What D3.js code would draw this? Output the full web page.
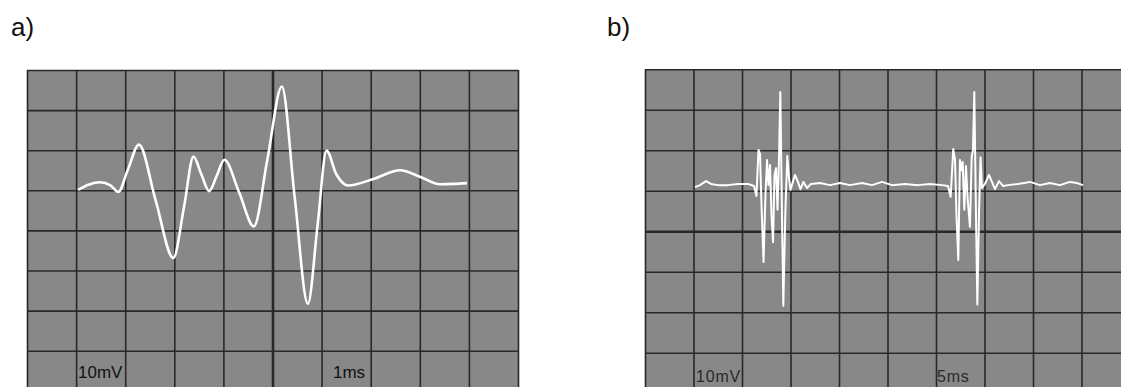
<!DOCTYPE html>
<html>
<head>
<meta charset="utf-8">
<script src="https://cdn.jsdelivr.net/npm/d3@7"></script>
<style>
  body { margin: 0; background: #fff; }
  svg { display: block; }
  .panel-label { font-family: "Liberation Sans", Arial, sans-serif; fill: #111; }
</style>
</head>
<body>
<svg id="scope"></svg>
<script>
// Panel a) - single compound action potential, 1 ms / div, 10 mV / div
const timeA = [1.04, 1.25, 1.49, 1.70, 1.86, 2.05, 2.28, 2.62, 2.98, 3.20, 3.39, 3.55, 3.71, 3.86, 4.02, 4.32, 4.62, 4.90, 5.19, 5.45, 5.72, 5.92, 6.10, 6.30, 6.54, 7.05, 7.60, 8.00, 8.41, 8.70, 8.96];
const voltA = [10.1, 11.4, 12.0, 11.2, 9.6, 15.0, 21.4, 7.5, -6.9, 6.0, 18.4, 14.0, 9.8, 13.5, 17.6, 9.5, 1.0, 18.0, 35.9, 8.5, -18.3, 1.5, 19.9, 14.0, 11.2, 12.8, 15.0, 13.4, 11.5, 11.6, 11.8];

// Panel b) - two bursts of spikes, 5 ms / div, 10 mV / div
const timeB = [5.15, 5.67, 6.29, 6.80, 7.53, 8.56, 9.59, 10.62, 11.24,
  11.49, 11.70, 11.86, 12.01, 12.22, 12.42, 12.58, 12.73, 12.89, 13.04, 13.20, 13.35, 13.51, 13.66, 13.81, 13.95, 14.10, 14.26, 14.46, 14.67, 14.85, 15.00,
  15.26, 15.46, 15.77, 16.03, 16.34, 16.70, 17.11,
  18.04, 19.07, 20.10, 21.13, 22.37, 23.40, 24.43, 25.46, 26.80, 28.14, 29.38, 30.62, 31.24,
  31.51, 31.78, 31.96, 32.11, 32.30, 32.47, 32.63, 32.75, 32.92, 33.09, 33.27, 33.50, 33.68, 33.81, 33.95, 34.10, 34.26, 34.43, 34.59, 34.74,
  35.05, 35.46, 35.77, 36.08, 36.49, 36.91, 37.42,
  38.45, 39.69, 40.72, 41.75, 42.78, 43.81, 44.54, 45.16];
const voltB = [10.9, 11.4, 12.4, 11.7, 11.4, 11.4, 11.7, 11.7, 11.2,
  8.7, 20.1, 19.1, 6.5, -7.6, 9.0, 17.6, 11.4, 16.4, 4.0, -2.7, 13.9, 15.6, 5.3, 17.6, 34.4, 7.7, -18.4, 4.0, 18.6, 13.2, 10.2,
  12.4, 13.9, 12.2, 10.4, 12.2, 10.7, 11.7,
  11.9, 11.4, 11.9, 11.4, 11.9, 11.4, 12.2, 11.4, 11.7, 11.4, 11.7, 11.4, 11.2,
  8.5, 20.3, 17.6, 4.0, -7.1, 17.6, 15.1, 17.1, 5.3, 16.1, 7.7, 1.1, 18.3, 20.1, 34.4, 7.7, -18.1, 4.0, 18.3, 10.7,
  11.7, 13.9, 12.2, 10.4, 12.4, 11.2, 11.4,
  11.7, 12.2, 11.4, 11.9, 11.4, 12.2, 11.9, 11.4];

// Grid divisions (tick values)
const gridA_x = d3.range(0, 11, 1);       // ms
const gridB_x = d3.range(0, 55, 5);       // ms
const gridY = d3.range(-40, 50, 10);      // mV

const svgWidth = 1121;
const svgHeight = 387;

const svg = d3.select("#scope")
  .attr("width", svgWidth)
  .attr("height", svgHeight);

function drawPanel(opt) {
  const x = d3.scaleLinear().domain(opt.xDomain).range([opt.left, opt.right]);
  const y = d3.scaleLinear().domain([-40, 40]).range([opt.bottom, opt.top]);

  const g = svg.append("g");

  // screen background
  g.append("rect")
    .attr("x", opt.left)
    .attr("y", opt.top)
    .attr("width", opt.right - opt.left)
    .attr("height", opt.bottom - opt.top)
    .attr("fill", "#888888");

  // vertical grid lines via axis ticks
  const xGrid = g.append("g")
    .attr("transform", "translate(0," + opt.bottom + ")")
    .call(d3.axisBottom(x).tickValues(opt.gridX).tickSize(-(opt.bottom - opt.top)).tickFormat(""));
  xGrid.select(".domain").remove();
  xGrid.selectAll("line")
    .attr("stroke", "#2b2727")
    .attr("stroke-width", d => d === opt.centerX ? opt.centerXWidth : 1.6);

  // horizontal grid lines
  const yGrid = g.append("g")
    .attr("transform", "translate(" + opt.left + ",0)")
    .call(d3.axisLeft(y).tickValues(gridY).tickSize(-(opt.right - opt.left)).tickFormat(""));
  yGrid.select(".domain").remove();
  yGrid.selectAll("line")
    .attr("stroke", "#2b2727")
    .attr("stroke-width", d => d === 0 ? opt.centerYWidth : 1.6);

  // trace
  const line = d3.line()
    .x(d => x(d[0]))
    .y(d => y(d[1]))
    .curve(opt.curve);

  g.append("path")
    .datum(d3.zip(opt.time, opt.volt))
    .attr("d", line)
    .attr("fill", "none")
    .attr("stroke", "#ffffff")
    .attr("stroke-width", opt.traceWidth)
    .attr("stroke-linejoin", "round");

  // scale readouts
  g.append("text")
    .attr("x", opt.voltLabelX)
    .attr("y", opt.labelY)
    .attr("font-family", "Liberation Sans, Arial, sans-serif")
    .attr("font-size", opt.labelSize)
    .attr("letter-spacing", opt.labelSpacing)
    .attr("fill", opt.labelColor)
    .text("10mV");

  g.append("text")
    .attr("x", opt.timeLabelX)
    .attr("y", opt.labelY)
    .attr("font-family", "Liberation Sans, Arial, sans-serif")
    .attr("font-size", opt.labelSize)
    .attr("letter-spacing", opt.labelSpacing)
    .attr("fill", opt.labelColor)
    .text(opt.timeLabel);

  // panel letter
  svg.append("text")
    .attr("class", "panel-label")
    .attr("x", opt.letterX)
    .attr("y", 36)
    .attr("font-size", 26)
    .text(opt.letter);
}

drawPanel({
  letter: "a)", letterX: 11,
  left: 27, right: 518, top: 70, bottom: 390.8,
  xDomain: [0, 10], gridX: gridA_x, centerX: 5, centerXWidth: 2.6, centerYWidth: 1.6,
  time: timeA, volt: voltA, curve: d3.curveMonotoneX, traceWidth: 2.6,
  voltLabelX: 78, timeLabelX: 333, timeLabel: "1ms", labelY: 377.5,
  labelSize: 17, labelSpacing: 0, labelColor: "#111"
});

drawPanel({
  letter: "b)", letterX: 607,
  left: 645, right: 1130, top: 69.3, bottom: 393.3,
  xDomain: [0, 50], gridX: gridB_x, centerX: -1, centerXWidth: 1.6, centerYWidth: 2.4,
  time: timeB, volt: voltB, curve: d3.curveLinear, traceWidth: 2,
  voltLabelX: 696, timeLabelX: 937, timeLabel: "5ms", labelY: 381.5,
  labelSize: 16, labelSpacing: 0.8, labelColor: "#2a2a2a"
});
</script>
</body>
</html>
